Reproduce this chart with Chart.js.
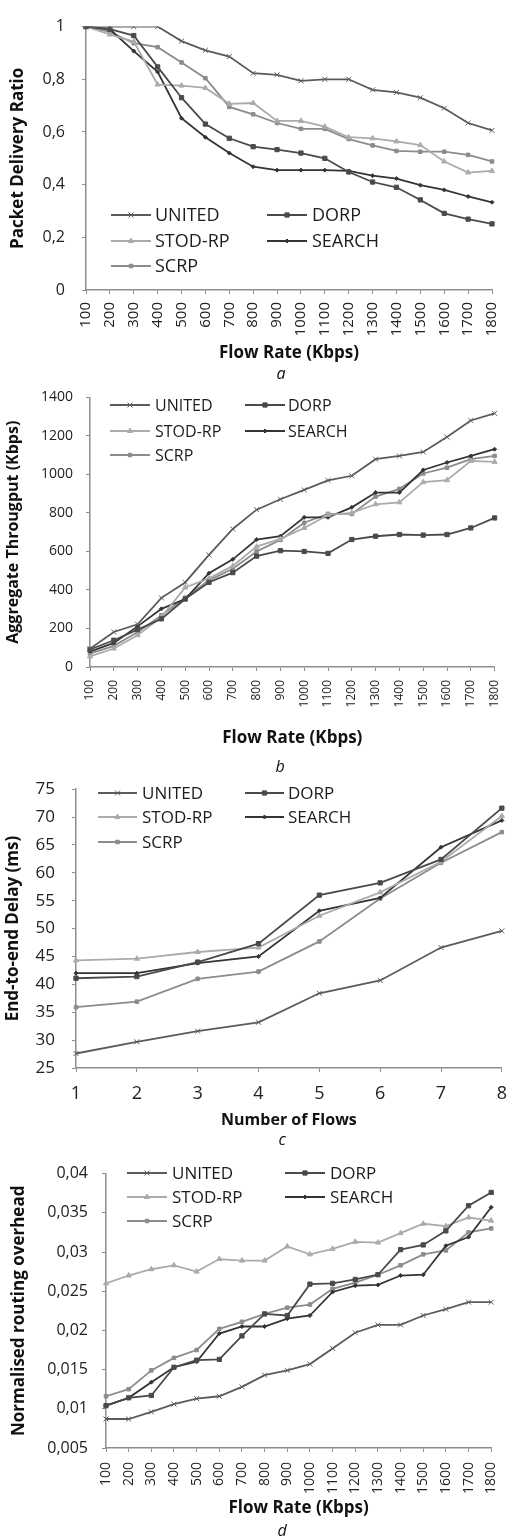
<!DOCTYPE html>
<html><head><meta charset="utf-8">
<script src="https://cdn.jsdelivr.net/npm/chart.js@4.4.0/dist/chart.umd.min.js"></script>
<style>
html,body{margin:0;padding:0;background:#fff;}
#wrap{position:relative;width:518px;height:1539px;overflow:hidden;background:#fff;}
#wrap canvas{position:absolute;left:0;}
.cap{position:absolute;width:40px;height:20px;line-height:20px;text-align:center;font:italic 16px 'Open Sans';color:#111;}
</style></head><body>
<div id="wrap">
<canvas id="ca" width="518" height="364" style="top:0px"></canvas>
<canvas id="cb" width="518" height="376" style="top:376px"></canvas>
<canvas id="cc" width="518" height="368" style="top:762px"></canvas>
<canvas id="cd" width="518" height="372" style="top:1150px"></canvas>
<div class="cap" style="left:261px;top:362px">a</div>
<div class="cap" style="left:260px;top:755px">b</div>
<div class="cap" style="left:262px;top:1128px">c</div>
<div class="cap" style="left:262px;top:1519px">d</div>
</div>
<script>
// ---------- categories ----------
const flowRates = ['100','200','300','400','500','600','700','800','900','1000','1100','1200','1300','1400','1500','1600','1700','1800'];
const flowCounts = ['1','2','3','4','5','6','7','8'];
const seriesNames = ['UNITED','DORP','STOD-RP','SEARCH','SCRP'];

// ---------- (a) packet delivery ratio ----------
const pdrUnited = [1, 1, 1, 1, 0.945, 0.91, 0.886, 0.823, 0.817, 0.794, 0.80, 0.80, 0.76, 0.75, 0.73, 0.69, 0.634, 0.606];
const pdrDorp   = [1, 0.99, 0.966, 0.847, 0.73, 0.63, 0.576, 0.544, 0.533, 0.52, 0.50, 0.448, 0.41, 0.39, 0.342, 0.291, 0.269, 0.251];
const pdrStod   = [1, 0.97, 0.943, 0.78, 0.776, 0.767, 0.707, 0.71, 0.642, 0.642, 0.62, 0.58, 0.576, 0.564, 0.55, 0.488, 0.446, 0.452];
const pdrSearch = [1, 0.99, 0.907, 0.828, 0.652, 0.58, 0.52, 0.468, 0.455, 0.455, 0.455, 0.452, 0.434, 0.423, 0.398, 0.38, 0.355, 0.333];
const pdrScrp   = [1, 0.98, 0.937, 0.922, 0.864, 0.804, 0.695, 0.667, 0.634, 0.612, 0.612, 0.573, 0.549, 0.528, 0.525, 0.525, 0.513, 0.488];

// ---------- (b) aggregate throughput ----------
const thrUnited = [95, 182, 222, 359, 439, 582, 717, 817, 871, 920, 969, 993, 1079, 1096, 1117, 1194, 1280, 1317];
const thrDorp   = [91, 139, 194, 250, 353, 440, 490, 576, 604, 600, 590, 662, 679, 688, 685, 688, 722, 774];
const thrStod   = [55, 96, 165, 259, 413, 460, 525, 625, 665, 722, 790, 800, 845, 855, 960, 970, 1070, 1065];
const thrSearch = [80, 125, 211, 302, 353, 487, 559, 662, 679, 777, 777, 829, 906, 906, 1023, 1062, 1096, 1131];
const thrScrp   = [70, 110, 180, 268, 360, 450, 510, 600, 660, 749, 795, 795, 885, 925, 1005, 1035, 1079, 1096];

// ---------- (c) end-to-end delay ----------
const delUnited = [27.6, 29.7, 31.6, 33.2, 38.4, 40.7, 46.6, 49.6];
const delDorp   = [41.1, 41.4, 44.0, 47.3, 56.0, 58.2, 62.4, 71.6];
const delStod   = [44.3, 44.6, 45.8, 46.6, 52.3, 56.5, 62.0, 70.2];
const delSearch = [42.0, 42.0, 43.8, 45.0, 53.2, 55.5, 64.6, 69.4];
const delScrp   = [35.9, 36.9, 41.0, 42.3, 47.7, 55.4, 61.8, 67.3];

// ---------- (d) normalised routing overhead ----------
const ovUnited = [0.0087, 0.0087, 0.0096, 0.0106, 0.0113, 0.0116, 0.0128, 0.0143, 0.0149, 0.0157, 0.0177, 0.0197, 0.0207, 0.0207, 0.0219, 0.0227, 0.0236, 0.0236];
const ovDorp   = [0.0104, 0.0114, 0.0117, 0.0153, 0.0162, 0.0163, 0.0193, 0.0221, 0.0219, 0.0259, 0.0260, 0.0265, 0.0271, 0.0303, 0.0309, 0.0327, 0.0359, 0.0376];
const ovStod   = [0.0260, 0.0270, 0.0278, 0.0283, 0.0275, 0.0291, 0.0289, 0.0289, 0.0307, 0.0297, 0.0304, 0.0313, 0.0312, 0.0324, 0.0336, 0.0333, 0.0344, 0.0340];
const ovSearch = [0.0104, 0.0114, 0.0134, 0.0153, 0.0160, 0.0196, 0.0205, 0.0205, 0.0215, 0.0219, 0.0249, 0.0257, 0.0258, 0.0270, 0.0271, 0.0308, 0.0319, 0.0357];
const ovScrp   = [0.0116, 0.0125, 0.0149, 0.0165, 0.0175, 0.0202, 0.0211, 0.0221, 0.0229, 0.0233, 0.0253, 0.0261, 0.0271, 0.0283, 0.0297, 0.0302, 0.0325, 0.0330];

// ---------- styling ----------
const FONT = "'Open Sans', sans-serif";
const AXIS = '#8e8e8e';
const styles = {
  'UNITED':  {color:'#5b5b5b', pointStyle:'crossRot', radius:3.5},
  'DORP':    {color:'#4a4a4a', pointStyle:'rect',     radius:3},
  'STOD-RP': {color:'#ababab', pointStyle:'triangle', radius:3},
  'SEARCH':  {color:'#343434', pointStyle:'rectRot',  radius:2},
  'SCRP':    {color:'#8c8c8c', pointStyle:'rect',     radius:2.5}
};

function dataset(name, data){
  const s = styles[name];
  return {label:name, data:data, borderColor:s.color, backgroundColor:s.color,
    pointBorderColor:s.color, pointBackgroundColor:s.color,
    borderWidth:1.8, pointStyle:s.pointStyle, pointRadius:s.radius, pointBorderWidth:1,
    tension:0, fill:false};
}

const insideLegend = {
  id:'insideLegend',
  afterDraw(chart, args, o){
    const ctx = chart.ctx;
    ctx.save();
    ctx.font = o.size + 'px ' + FONT;
    ctx.textBaseline = 'middle';
    ctx.textAlign = 'left';
    chart.data.datasets.forEach((ds,i)=>{
      const col = o.cols[i%2], y = o.rows[Math.floor(i/2)];
      const x0 = col.line, x1 = col.line + o.lineLen;
      ctx.strokeStyle = ds.borderColor; ctx.fillStyle = ds.borderColor; ctx.lineWidth = 1.8;
      ctx.beginPath(); ctx.moveTo(x0,y); ctx.lineTo(x1,y); ctx.stroke();
      ctx.lineWidth = 1;
      Chart.helpers.drawPoint(ctx, {pointStyle:ds.pointStyle, radius:ds.pointRadius, borderWidth:1, rotation:0}, (x0+x1)/2, y);
      ctx.fillStyle = '#1c1c1c';
      ctx.fillText(ds.label, col.text, y+1);
    });
    ctx.restore();
  }
};

function makeChart(id, c){
  const H = c.canvasH;
  return new Chart(document.getElementById(id), {
    type:'line',
    data:{labels:c.labels, datasets:c.series.map(p=>dataset(p[0],p[1]))},
    plugins:[insideLegend],
    options:{
      responsive:false, animation:false, devicePixelRatio:1,
      layout:{padding:{left:0, top:c.area.top, right:518-c.area.right, bottom:0}},
      plugins:{legend:{display:false}, tooltip:{enabled:false}, insideLegend:c.legend},
      scales:{
        x:{type:'category', offset:false,
          grid:{display:true, drawOnChartArea:false, drawTicks:true, tickLength:4, color:AXIS, lineWidth:1},
          border:{display:true, color:AXIS, width:1.5},
          ticks:{autoSkip:false, maxRotation:c.xt.rot, minRotation:c.xt.rot, padding:c.xt.pad, color:'#222', font:{family:FONT, size:c.xt.size}},
          title:{display:true, text:c.xTitle.text, color:'#111', font:{family:FONT, size:c.xTitle.size, weight:'bold'}, padding:{top:0,bottom:c.xTitle.pb}},
          afterFit:s=>{s.height = H - c.area.bottom;}
        },
        y:{type:'linear', min:c.y.min, max:c.y.max,
          grid:{display:true, drawOnChartArea:false, drawTicks:true, tickLength:4, color:AXIS, lineWidth:1},
          border:{display:true, color:AXIS, width:1.5},
          ticks:{stepSize:c.y.step, padding:c.y.pad, color:'#222', font:{family:FONT, size:c.y.size},
            callback:v=>String(Number(v.toFixed(4))).replace('.', ',')},
          title:{display:true, text:c.yTitle.text, color:'#111', font:{family:FONT, size:c.yTitle.size, weight:'bold'}, padding:{top:c.yTitle.pt,bottom:0}},
          afterFit:s=>{s.width = c.area.left;}
        }
      }
    }
  });
}

makeChart('ca', {
  canvasH:364, labels:flowRates,
  series:[['UNITED',pdrUnited],['DORP',pdrDorp],['STOD-RP',pdrStod],['SEARCH',pdrSearch],['SCRP',pdrScrp]],
  area:{top:16, bottom:290, left:86, right:509},
  y:{min:0, max:1, step:0.2, size:16, pad:17},
  xt:{rot:90, size:15, pad:8},
  xTitle:{text:'Flow Rate (Kbps)', size:17, pb:1},
  yTitle:{text:'Packet Delivery Ratio', size:17, pt:8},
  legend:{size:18, lineLen:40, rows:[215,241,266], cols:[{line:111,text:155},{line:267,text:312}]}
});

makeChart('cb', {
  canvasH:376, labels:flowRates,
  series:[['UNITED',thrUnited],['DORP',thrDorp],['STOD-RP',thrStod],['SEARCH',thrSearch],['SCRP',thrScrp]],
  area:{top:19, bottom:291, left:90, right:509},
  y:{min:0, max:1400, step:200, size:14, pad:13},
  xt:{rot:90, size:12, pad:9},
  xTitle:{text:'Flow Rate (Kbps)', size:17, pb:4},
  yTitle:{text:'Aggregate Througput (Kbps)', size:16, pt:4},
  legend:{size:16, lineLen:40, rows:[29,55,79], cols:[{line:110,text:155},{line:245,text:288}]}
});

makeChart('cc', {
  canvasH:368, labels:flowCounts,
  series:[['UNITED',delUnited],['DORP',delDorp],['STOD-RP',delStod],['SEARCH',delSearch],['SCRP',delScrp]],
  area:{top:18, bottom:306, left:76, right:513},
  y:{min:25, max:75, step:5, size:17, pad:17},
  xt:{rot:0, size:18, pad:11},
  xTitle:{text:'Number of Flows', size:16, pb:0},
  yTitle:{text:'End-to-end Delay (ms)', size:17, pt:3},
  legend:{size:17, lineLen:39, rows:[31,55,80], cols:[{line:98,text:142},{line:245,text:288}]}
});

makeChart('cd', {
  canvasH:372, labels:flowRates,
  series:[['UNITED',ovUnited],['DORP',ovDorp],['STOD-RP',ovStod],['SEARCH',ovSearch],['SCRP',ovScrp]],
  area:{top:23, bottom:298, left:106, right:502},
  y:{min:0.005, max:0.04, step:0.005, size:16, pad:14},
  xt:{rot:90, size:14, pad:10},
  xTitle:{text:'Flow Rate (Kbps)', size:17, pb:4},
  yTitle:{text:'Normalised routing overhead', size:17, pt:9},
  legend:{size:17, lineLen:40, rows:[23,47,71], cols:[{line:127,text:172},{line:285,text:330}]}
});
</script>
</body></html>
